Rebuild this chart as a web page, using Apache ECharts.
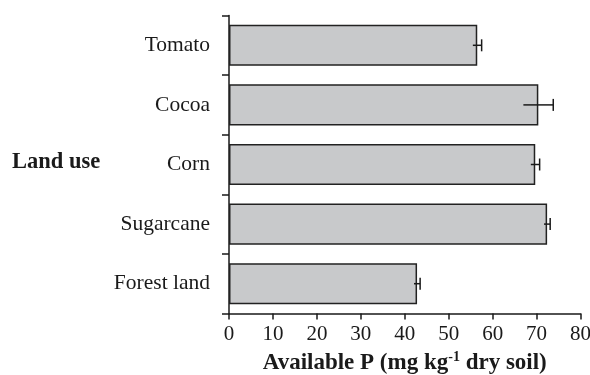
<!DOCTYPE html>
<html>
<head>
<meta charset="utf-8">
<script src="https://cdn.jsdelivr.net/npm/echarts@6/dist/echarts.min.js"></script>
<style>
html,body{margin:0;padding:0;background:#fff;}
#chart{width:590px;height:375px;}
</style>
</head>
<body>
<div id="chart"></div>
<script>
var categories = ['Tomato', 'Cocoa', 'Corn', 'Sugarcane', 'Forest land'];
var values = [56.5, 70.4, 69.7, 72.4, 42.8];
var errors = [1.0, 3.4, 1.0, 0.7, 0.7];
var xTicks = [0, 10, 20, 30, 40, 50, 60, 70, 80];

var FONT = '"Liberation Serif", "Times New Roman", serif';
var INK = '#1a1a1a';

var chart = echarts.init(document.getElementById('chart'));

var errData = values.map(function (v, i) { return [v, i, errors[i]]; });

chart.setOption({
  animation: false,
  backgroundColor: '#fff',
  grid: { left: 229, right: 9.5, top: 15.5, bottom: 61.5, containLabel: false, outerBoundsMode: 'none' },
  graphic: [{
    type: 'text',
    left: 12,
    top: 151,
    style: { text: 'Land use', font: 'bold 22.5px ' + FONT, fill: INK }
  }],
  xAxis: {
    type: 'value',
    min: xTicks[0],
    max: xTicks[xTicks.length - 1],
    interval: 10,
    axisLine: { show: true, lineStyle: { color: INK, width: 1.5 } },
    axisTick: { show: true, length: 6, lineStyle: { color: INK, width: 1.5 } },
    splitLine: { show: false },
    axisLabel: { fontFamily: FONT, fontSize: 21, color: INK, margin: 10 },
    name: '{t|Available P (mg kg}{s|-1}{t| dry soil)}',
    nameLocation: 'middle',
    nameGap: 37,
    nameTextStyle: {
      rich: {
        t: { fontFamily: FONT, fontWeight: 'bold', fontSize: 23, color: INK, verticalAlign: 'bottom', lineHeight: 24 },
        s: { fontFamily: FONT, fontWeight: 'bold', fontSize: 14, color: INK, verticalAlign: 'top', lineHeight: 24, padding: [0, 0, 10, 0] }
      }
    }
  },
  yAxis: {
    type: 'category',
    data: categories,
    inverse: true,
    axisLine: { show: true, onZero: false, lineStyle: { color: INK, width: 1.5 } },
    axisTick: { show: true, length: 7, lineStyle: { color: INK, width: 1.5 } },
    axisLabel: { fontFamily: FONT, fontSize: 21.5, color: INK, margin: 19 },
    splitLine: { show: false }
  },
  series: [{
    type: 'bar',
    data: values,
    barCategoryGap: '31%',
    itemStyle: { color: '#c8c9cb', borderColor: '#222', borderWidth: 1.5 },
    silent: true
  }, {
    type: 'custom',
    data: errData,
    z: 5,
    renderItem: function (params, api) {
      var v = api.value(0), c = api.value(1), e = api.value(2);
      var lo = api.coord([v - e, c]);
      var hi = api.coord([v + e, c]);
      var capH = 6;
      return {
        type: 'group',
        children: [{
          type: 'line',
          shape: { x1: lo[0], y1: lo[1], x2: hi[0], y2: hi[1] },
          style: { stroke: INK, lineWidth: 1.5 }
        }, {
          type: 'line',
          shape: { x1: hi[0], y1: hi[1] - capH, x2: hi[0], y2: hi[1] + capH },
          style: { stroke: INK, lineWidth: 1.5 }
        }]
      };
    },
    encode: { x: 0, y: 1 },
    silent: true
  }]
});
</script>
</body>
</html>
